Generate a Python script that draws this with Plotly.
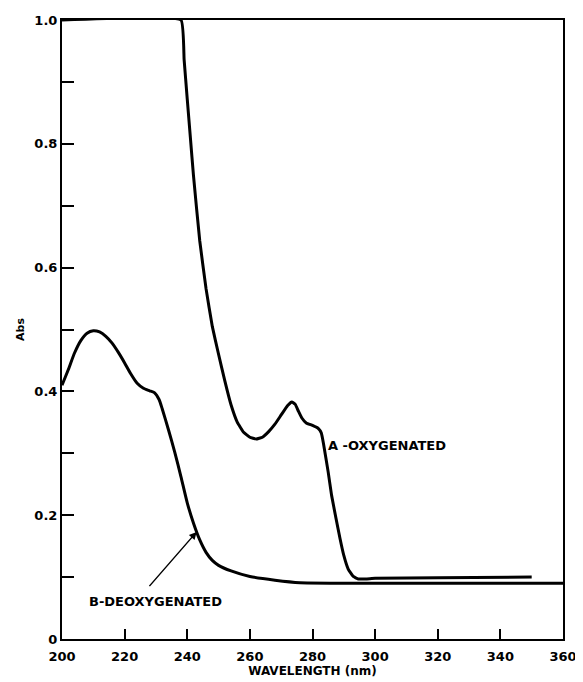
import plotly.graph_objects as go

# Curve A - oxygenated
wl_a = [200, 238, 239, 240, 241, 242, 244, 246, 248, 250, 252, 254, 256, 258, 260, 262, 264, 266, 268,
        270, 272, 273.4, 274.5, 275.5, 276.6, 278, 280, 281.9, 282.8, 283.5, 285, 286.1, 287.5,
        288.8, 290, 291.4, 293, 294.6, 297, 300, 320, 350]
abs_a = [1.0, 1.0, 0.936, 0.872, 0.81, 0.748, 0.643, 0.566, 0.505, 0.46, 0.417, 0.378, 0.35, 0.334, 0.326,
         0.323, 0.326, 0.335, 0.347, 0.362, 0.377, 0.383, 0.379, 0.368, 0.357, 0.349, 0.345,
         0.340, 0.333, 0.316, 0.27, 0.232, 0.195, 0.162, 0.135, 0.113, 0.101, 0.097, 0.097,
         0.098, 0.099, 0.100]

# Curve B - deoxygenated
wl_b = [200, 202, 204, 206, 208, 210, 212, 214, 216, 218, 220, 222, 224, 226, 228, 229.5, 231,
        232, 234, 236, 238, 240, 242, 244, 246, 248, 250, 254, 260, 268, 276, 300, 330, 360]
abs_b = [0.41, 0.435, 0.462, 0.482, 0.494, 0.498, 0.496, 0.489, 0.478, 0.463, 0.446, 0.428,
         0.413, 0.405, 0.401, 0.398, 0.387, 0.372, 0.338, 0.302, 0.262, 0.22, 0.187, 0.16, 0.14,
         0.127, 0.119, 0.11, 0.101, 0.095, 0.091, 0.090, 0.090, 0.090]

x_ticks = [200, 220, 240, 260, 280, 300, 320, 340, 360]
y_ticks = [0, 0.2, 0.4, 0.6, 0.8, 1.0]
y_ticktext = ["0", "0.2", "0.4", "0.6", "0.8", "1.0"]

FONT = "DejaVu Sans"

fig = go.Figure()
fig.add_trace(go.Scatter(x=wl_a, y=abs_a, mode="lines",
                         line=dict(color="black", width=3, shape="spline", smoothing=0.3),
                         showlegend=False, cliponaxis=True))
fig.add_trace(go.Scatter(x=wl_b, y=abs_b, mode="lines",
                         line=dict(color="black", width=3, shape="spline", smoothing=0.5),
                         showlegend=False, cliponaxis=True))

fig.add_annotation(x=284.4, y=0.313, xref="x", yref="y", text="A -OXYGENATED",
                   showarrow=False, xanchor="left", yanchor="middle",
                   font=dict(family=FONT, size=13, color="black", weight="bold"))
fig.add_annotation(x=208, y=0.06, xref="x", yref="y", text="B-DEOXYGENATED",
                   showarrow=False, xanchor="left", yanchor="middle",
                   font=dict(family=FONT, size=13, color="black", weight="bold"))
fig.add_annotation(x=243.0, y=0.173, xref="x", yref="y", ax=227.5, ay=0.083,
                   axref="x", ayref="y", text="", showarrow=True,
                   arrowhead=2, arrowsize=1, arrowwidth=1.5, arrowcolor="black", standoff=0)

fig.update_layout(
    width=575, height=674,
    margin=dict(l=54, r=20, t=12, b=43),
    paper_bgcolor="white", plot_bgcolor="white",
    font=dict(family=FONT, color="black", weight="bold"),
    xaxis=dict(range=[200, 360], tickvals=x_ticks, ticks="inside", ticklen=10, tickwidth=1.5,
               tickcolor="black", showline=True, linecolor="black", linewidth=2, mirror=True,
               showgrid=False, zeroline=False, automargin=False,
               tickfont=dict(family=FONT, size=13, color="black", weight="bold"),
               ticklabelstandoff=4,
               title=dict(text="WAVELENGTH (nm)", standoff=4,
                          font=dict(family=FONT, size=12, color="black", weight="bold"))),
    yaxis=dict(range=[0, 1.0], tickvals=y_ticks, ticktext=y_ticktext, ticks="inside",
               ticklen=10, tickwidth=1.5, tickcolor="black",
               minor=dict(dtick=0.1, ticks="inside", ticklen=12, tickwidth=1.5, tickcolor="black"),
               showline=True, linecolor="black", linewidth=2, mirror=True,
               showgrid=False, zeroline=False, automargin=False,
               tickfont=dict(family=FONT, size=13, color="black", weight="bold"),
               title=dict(text="Abs", standoff=8,
                          font=dict(family=FONT, size=11, color="black", weight="bold"))),
)

fig.write_html("out.html")
